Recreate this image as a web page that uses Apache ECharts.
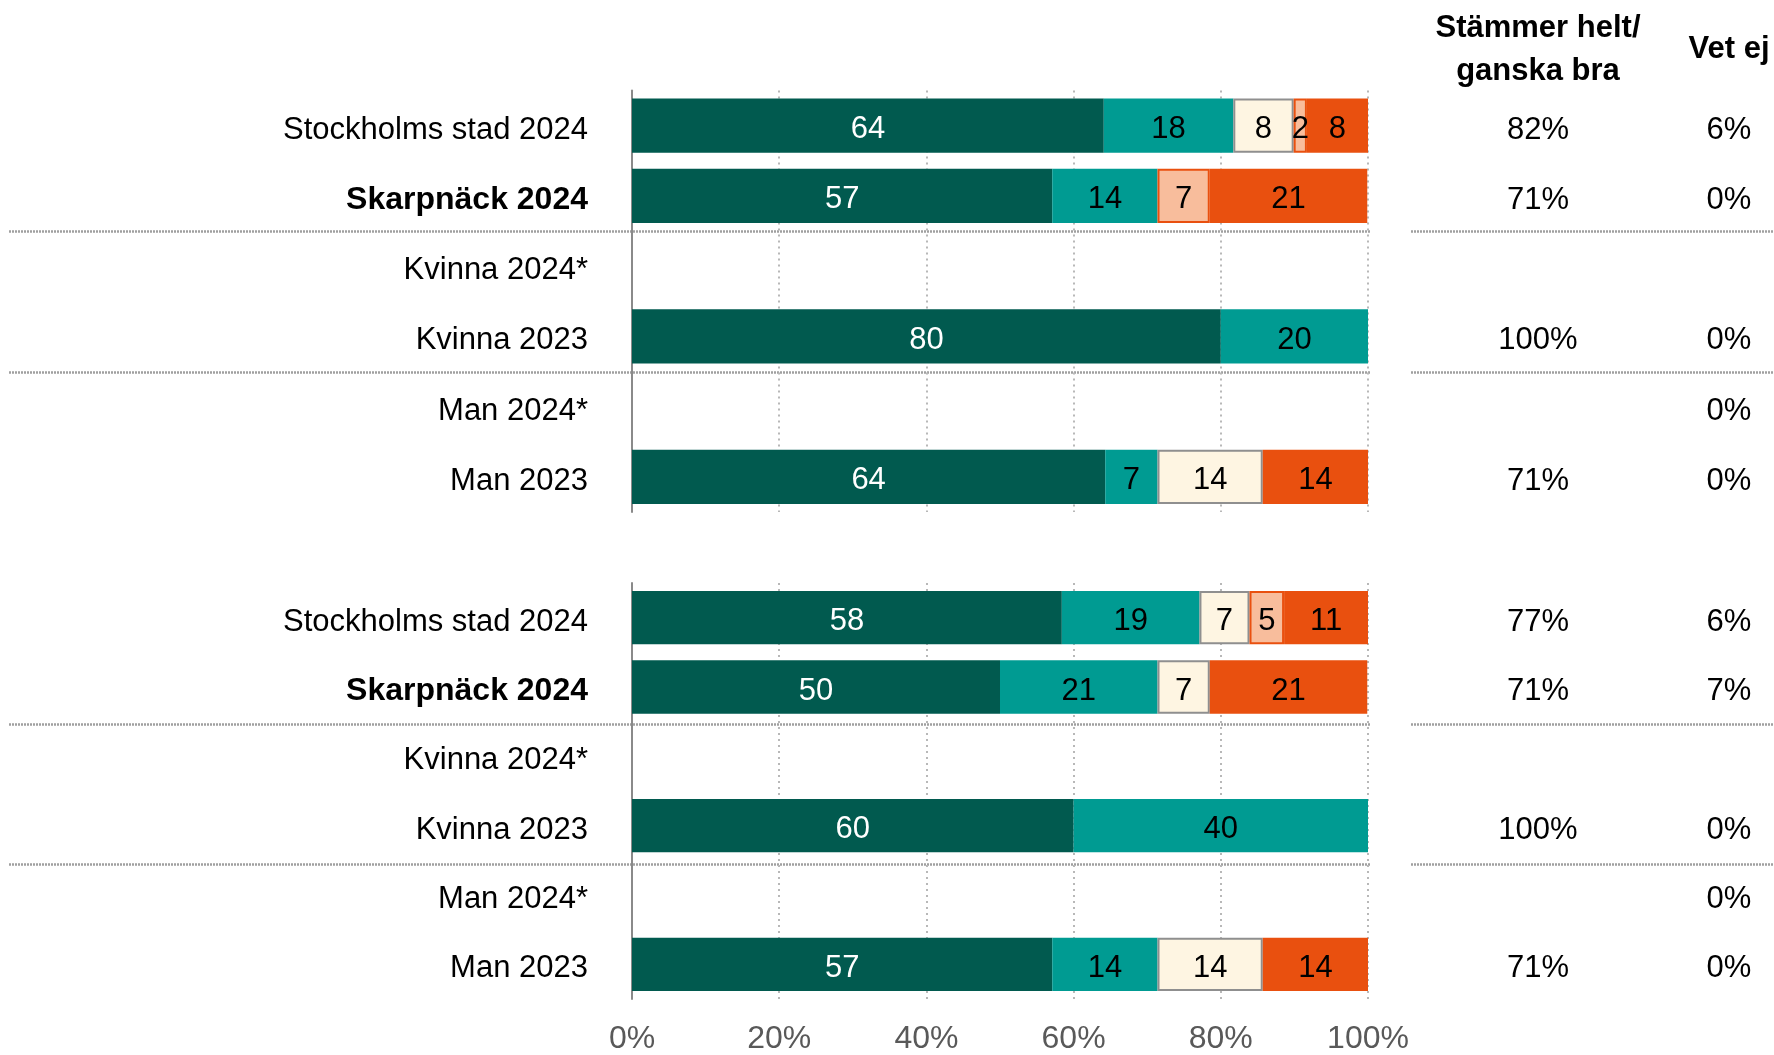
<!DOCTYPE html>
<html>
<head>
<meta charset="utf-8">
<script src="https://cdn.jsdelivr.net/npm/echarts@6/dist/echarts.min.js"></script>
<style>
html,body{margin:0;padding:0;background:#fff;}
#chart{width:1774px;height:1055px;}
</style>
</head>
<body>
<div id="chart"></div>
<script>
// ---- Data ----
const categories = ['Stockholms stad 2024', 'Skarpnäck 2024', 'Kvinna 2024*', 'Kvinna 2023', 'Man 2024*', 'Man 2023'];
const boldCategory = 'Skarpnäck 2024';
const seriesNames = ['Stämmer helt', 'Stämmer ganska bra', 'Varken bra eller dåligt', 'Stämmer ganska dåligt', 'Stämmer inte alls'];

// Group 1 (upper block)
const g1Helt    = [64.1, 57.1, null, 80, null, 64.3];
const g1Ganska  = [17.6, 14.3, null, 20, null, 7.1];
const g1Varken  = [8.2, null, null, null, null, 14.3];
const g1Daligt  = [1.8, 7.1, null, null, null, null];
const g1Inte    = [8.3, 21.4, null, null, null, 14.3];
const g1Stammer = ['82%', '71%', '', '100%', '', '71%'];
const g1VetEj   = ['6%', '0%', '', '0%', '0%', '0%'];

// Group 2 (lower block)
const g2Helt    = [58.4, 50, null, 60, null, 57.1];
const g2Ganska  = [18.7, 21.4, null, 40, null, 14.3];
const g2Varken  = [6.8, 7.1, null, null, null, 14.3];
const g2Daligt  = [4.7, null, null, null, null, null];
const g2Inte    = [11.4, 21.4, null, null, null, 14.3];
const g2Stammer = ['77%', '71%', '', '100%', '', '71%'];
const g2VetEj   = ['6%', '7%', '', '0%', '0%', '0%'];

const xTicks = [0, 20, 40, 60, 80, 100];
const headerStammer = ['Stämmer helt/', 'ganska bra'];
const headerVetEj = 'Vet ej';

// ---- Styling / layout ----
const FONT = '"Liberation Sans", Arial, sans-serif';
const colors = ['#015a4f', '#009b92', '#fef5e2', '#f8bd9c', '#e9500f'];
const labelColors = ['#ffffff', '#000000', '#000000', '#000000', '#000000'];
const borders = [
  {borderWidth: 0},
  {borderWidth: 0},
  {borderColor: '#8f8f8f', borderWidth: 2},
  {borderColor: '#e9500f', borderWidth: 2},
  {borderWidth: 0}
];
const GRID_LEFT = 632, GRID_RIGHT_X = 1368;
const ROW_H = 70.25;
const GRID_TOPS = [90.5, 583];
const GRID_H = ROW_H * 6;
const TXT_PAD = [9, 0, 0, 0];

const chart = echarts.init(document.getElementById('chart'), null, {renderer: 'canvas'});

const groups = [
  {data: [g1Helt, g1Ganska, g1Varken, g1Daligt, g1Inte], stammer: g1Stammer, vetej: g1VetEj},
  {data: [g2Helt, g2Ganska, g2Varken, g2Daligt, g2Inte], stammer: g2Stammer, vetej: g2VetEj}
];

const richRight = {v: {fontFamily: FONT, fontSize: 31, color: '#000', padding: TXT_PAD}};

const grids = [], xAxes = [], yAxes = [], series = [];
groups.forEach((g, gi) => {
  grids.push({left: GRID_LEFT, right: 1774 - GRID_RIGHT_X, top: GRID_TOPS[gi], height: GRID_H, containLabel: false});
  xAxes.push({
    type: 'value', gridIndex: gi, min: 0, max: 100, interval: 20,
    axisLine: {show: false}, axisTick: {show: false},
    splitLine: {show: true, lineStyle: {color: '#b8b8b8', width: 2, type: [2, 4]}},
    axisLabel: {show: gi === 1, formatter: '{value}%', fontFamily: FONT, fontSize: 32, color: '#595959', margin: 24}
  });
  const base = yAxes.length;
  yAxes.push({
    type: 'category', gridIndex: gi, data: categories, inverse: true,
    axisLine: {show: true, lineStyle: {color: '#8a8a8a', width: 2}},
    axisTick: {show: false},
    axisLabel: {
      margin: 44, fontFamily: FONT, fontSize: 31, color: '#000', padding: TXT_PAD,
      formatter: v => v === boldCategory ? '{b|' + v + '}' : '{n|' + v + '}',
      rich: {
        b: {fontFamily: FONT, fontSize: 32, fontWeight: 'bold', color: '#000'},
        n: {fontFamily: FONT, fontSize: 31, color: '#000'}
      }
    }
  });
  yAxes.push({
    type: 'category', gridIndex: gi, data: categories, inverse: true, position: 'right',
    axisLine: {show: false}, axisTick: {show: false},
    axisLabel: {margin: 170, align: 'center', fontFamily: FONT, fontSize: 31, color: '#000',
      formatter: (v, i) => g.stammer[i] ? '{v|' + g.stammer[i] + '}' : '', rich: richRight}
  });
  yAxes.push({
    type: 'category', gridIndex: gi, data: categories, inverse: true, position: 'right',
    axisLine: {show: false}, axisTick: {show: false},
    axisLabel: {margin: 361, align: 'center', fontFamily: FONT, fontSize: 31, color: '#000',
      formatter: (v, i) => g.vetej[i] ? '{v|' + g.vetej[i] + '}' : '', rich: richRight}
  });
  g.data.forEach((arr, si) => {
    series.push({
      name: seriesNames[si], type: 'bar', stack: 'g' + gi,
      xAxisIndex: gi, yAxisIndex: base,
      barCategoryGap: '23%',
      data: arr,
      itemStyle: Object.assign({color: colors[si]}, borders[si]),
      label: {
        show: true, position: 'inside', fontFamily: FONT, fontSize: 31,
        color: labelColors[si], offset: [0, 4],
        formatter: p => (p.value == null ? '' : String(Math.round(p.value)))
      },
      emphasis: {disabled: true},
      animation: false
    });
  });
});

// separators and headers (decorations)
const graphic = [];
const sepStyle = {stroke: '#a0a0a0', lineWidth: 2.5, lineDash: [2, 1]};
GRID_TOPS.forEach(top => {
  [2, 4].forEach(k => {
    const y = Math.round(top + k * ROW_H) + 0.5;
    graphic.push({type: 'line', shape: {x1: 9, y1: y, x2: 1370, y2: y}, style: sepStyle, silent: true});
    graphic.push({type: 'line', shape: {x1: 1411, y1: y, x2: 1774, y2: y}, style: sepStyle, silent: true});
  });
});
graphic.push({type: 'text', x: 1538, y: 28, style: {text: headerStammer[0], font: 'bold 31px ' + FONT, fill: '#000', textAlign: 'center', textVerticalAlign: 'middle'}, silent: true});
graphic.push({type: 'text', x: 1538, y: 71, style: {text: headerStammer[1], font: 'bold 31px ' + FONT, fill: '#000', textAlign: 'center', textVerticalAlign: 'middle'}, silent: true});
graphic.push({type: 'text', x: 1729, y: 49, style: {text: headerVetEj, font: 'bold 31px ' + FONT, fill: '#000', textAlign: 'center', textVerticalAlign: 'middle'}, silent: true});

chart.setOption({
  animation: false,
  backgroundColor: '#ffffff',
  grid: grids,
  xAxis: xAxes,
  yAxis: yAxes,
  series: series,
  graphic: graphic
});
</script>
</body>
</html>
